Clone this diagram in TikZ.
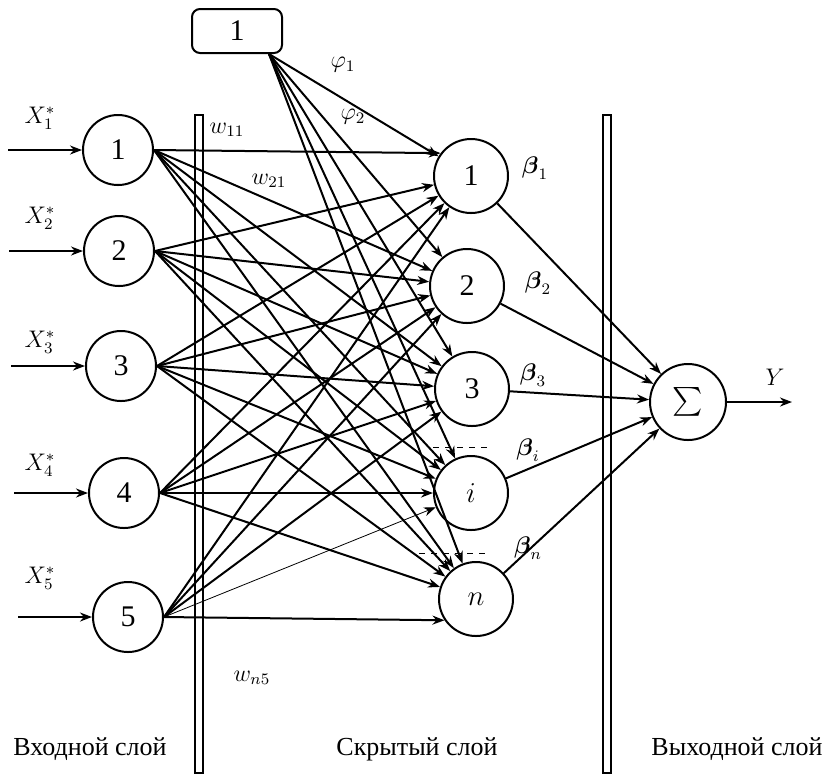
\documentclass[tikz,border=0pt]{standalone}
\usepackage{amsmath}
\usepackage{fontspec}
\setmainfont{Liberation Serif}
\usetikzlibrary{arrows,arrows.meta,positioning,shapes,fit,calc}

\tikzset{
  neuron/.style={circle,draw,line width=1pt,minimum size=35pt,inner sep=0pt,font=\fontsize{15}{17}\selectfont},
  hidden/.style={neuron,minimum size=37pt},
  biasbox/.style={draw,line width=1pt,rounded corners=4pt,minimum width=45pt,minimum height=22pt,font=\fontsize{15}{17}\selectfont},
  bar/.style={draw,line width=1pt},
  lbl/.style={font=\fontsize{12}{14}\selectfont},
  layer/.style={font=\fontsize{13}{15}\selectfont}
}

\begin{document}
\begin{tikzpicture}[x=0.5pt,y=-0.5pt,>={Stealth[length=6pt,width=4.5pt]},line width=1pt]
   \useasboundingbox (0,0) rectangle (823,773);
   % layer separators
   \draw[bar] (195,115) rectangle (203,773);
   \draw[bar] (603,115) rectangle (611,773);
   % input layer
   \node [neuron] (x1) at (118,150) {1};
   \node [neuron] (x2) at (119,251) {2};
   \node [neuron] (x3) at (121,366) {3};
   \node [neuron] (x4) at (124,493) {4};
   \node [neuron] (x5) at (128,617) {5};
   % hidden layer
   \node [hidden] (h1) at (471,176) {1};
   \node [hidden] (h2) at (467,286) {2};
   \node [hidden] (h3) at (472,389) {3};
   \node [hidden] (hi) at (471,493) {$i$};
   \node [hidden] (hn) at (476,599) {$n$};
   % output
   \node [hidden,minimum size=38pt] (sum) at (688,402) {$\sum$};
   \node [biasbox] (bias) at (237,31) {1};
   \coordinate (bo) at ([xshift=-7pt]bias.south east);
   \coordinate (yout) at (792,402);
   % inputs
   \foreach \k in {1,2,3,4,5}{
     \coordinate (in\k) at ([xshift=-37pt]x\k.west);
     \draw[->] (in\k) -- (x\k.west);
   }
   \foreach \k/\y in {1/118,2/218,3/342,4/465,5/578}
     \node [lbl] at (40,\y) {$X_{\k}^{*}$};
   % weights
   \draw[->] (x1.east) -- (h1.143);
   \foreach \b in {2,3,i,n}
     \draw[->] (x1.east) -- (h\b);
   \foreach \a in {2,3,4}
     \foreach \b in {1,2,3,i,n}
       \draw[->] (x\a.east) -- (h\b);
   \foreach \b in {1,2,3}
     \draw[->] (x5.east) -- (h\b);
   \draw[->,thin] (x5.east) -- (hi);
   \draw[->] (x5.east) -- (hn.214);
   % bias
   \foreach \b in {1,2,3,i,n}
     \draw[->] (bo) -- (h\b);
   \draw[dashed,thin] (433,447) -- (488,447);
   \draw[dashed,thin] (419,553) -- (487,553);
   % output connections
   \path[->]
    (h1) edge (sum)
    (h2) edge (sum)
    (h3) edge (sum)
    (hi) edge (sum)
    (hn) edge (sum)
    (sum) edge (yout);
   % labels
   \node [lbl] at (227,130) {$w_{11}$};
   \node [lbl] at (269,181) {$w_{21}$};
   \node [lbl] at (252,678) {$w_{n5}$};
   \node [lbl] at (343,65) {$\varphi_1$};
   \node [lbl] at (353,117) {$\varphi_2$};
   \node [lbl] at (535,168) {$\boldsymbol{\beta}_1$};
   \node [lbl] at (538,283) {$\boldsymbol{\beta}_2$};
   \node [lbl] at (533,375) {$\boldsymbol{\beta}_3$};
   \node [lbl] at (528,450) {$\boldsymbol{\beta}_i$};
   \node [lbl] at (528,548) {$\boldsymbol{\beta}_n$};
   \node [lbl] at (775,377) {$Y$};
   \node [layer] at (90,749) {Входной слой};
   \node [layer] at (417,749) {Скрытый слой};
   \node [layer] at (737,749) {Выходной слой};
\end{tikzpicture}
\end{document}
